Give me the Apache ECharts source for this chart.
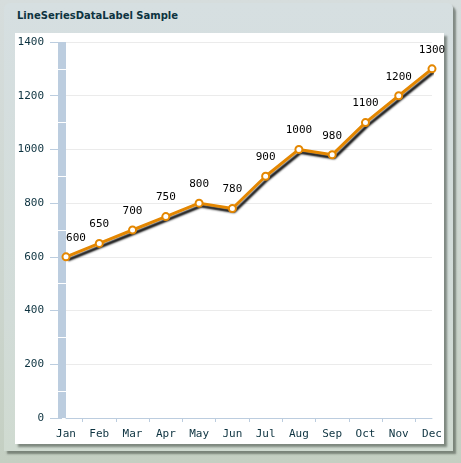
<!DOCTYPE html>
<html>
<head>
<meta charset="utf-8">
<script src="https://cdn.jsdelivr.net/npm/echarts@6/dist/echarts.min.js"></script>
<style>
  html, body { margin: 0; padding: 0; }
  body {
    width: 461px; height: 463px; position: relative; overflow: hidden;
    background: linear-gradient(180deg, #d6dddd 0%, #cdd6cf 60%, #c4cfc2 100%);
  }
  .panel {
    position: absolute; left: 4px; top: 3px; width: 449px; height: 448px;
    border-radius: 6px 6px 0 0;
    background: linear-gradient(180deg, #d6dfe1 0%, #d2dcd8 70%, #cfdad0 100%);
    box-shadow: 3px 3px 2px rgba(60, 70, 60, 0.55);
  }
  .title {
    position: absolute; left: 17px; top: 10px;
    font: bold 10px "DejaVu Sans", sans-serif; color: #0d3340;
  }
  .body {
    position: absolute; left: 15px; top: 33px; width: 429px; height: 411px;
    background: #fff;
    box-shadow: 3px 3px 2px rgba(60, 70, 60, 0.55);
  }
  #main { position: absolute; left: 0; top: 0; width: 461px; height: 463px; }
</style>
</head>
<body>
<div class="panel"></div>
<div class="title">LineSeriesDataLabel Sample</div>
<div class="body"></div>
<div id="main"></div>
<script>
const months = ['Jan', 'Feb', 'Mar', 'Apr', 'May', 'Jun', 'Jul', 'Aug', 'Sep', 'Oct', 'Nov', 'Dec']
const values = [600, 650, 700, 750, 800, 780, 900, 1000, 980, 1100, 1200, 1300]
const yTicks = [0, 200, 400, 600, 800, 1000, 1200, 1400]

const axisBlue = '#bccddf'
const textColor = '#0d3340'
const labelFont = '"DejaVu Sans Mono", monospace'

let chartDom = document.getElementById('main')
let myChart = echarts.init(chartDom)

const seriesData = values.map((v, i) => {
  // first label sits clear of the axis band
  if (i === 0) return { value: v, label: { offset: [10, 0] } }
  return v
})

let option = {
  animation: false,
  grid: {
    left: 66,
    right: 29,
    top: 42,
    bottom: 45
  },
  xAxis: [
    {
      type: 'category',
      data: months,
      boundaryGap: false,
      axisLine: { lineStyle: { color: axisBlue, width: 1 } },
      axisTick: { show: false },
      axisLabel: { color: textColor, fontFamily: labelFont, fontSize: 11, margin: 11 },
      splitLine: { show: false }
    },
    {
      // ticks sit between the months
      type: 'category',
      data: months.slice(1).map(() => ''),
      boundaryGap: true,
      position: 'bottom',
      axisLine: { show: false },
      axisTick: { show: true, alignWithLabel: true, length: 4, lineStyle: { color: axisBlue } },
      axisLabel: { show: false },
      splitLine: { show: false }
    }
  ],
  yAxis: [
    {
      type: 'value',
      min: yTicks[0],
      max: yTicks[yTicks.length - 1],
      interval: 200,
      offset: 4,
      axisLine: { show: true, lineStyle: { color: axisBlue, width: 8, cap: 'butt' } },
      axisTick: { show: true, length: 12, lineStyle: { color: axisBlue } },
      minorTick: { show: true, splitNumber: 2, length: 4, lineStyle: { color: '#fff', width: 1 } },
      axisLabel: {
        color: textColor, fontFamily: labelFont, fontSize: 11, margin: 18,
        formatter: function (value) { return String(value) }
      },
      splitLine: { show: true, lineStyle: { color: '#ebebeb', width: 1 } }
    },
    {
      type: 'value',
      position: 'left',
      min: yTicks[0],
      max: yTicks[yTicks.length - 1],
      interval: 200,
      offset: 4,
      axisLine: { show: false },
      axisTick: { show: false, inside: true },
      minorTick: { show: true, splitNumber: 2, length: 4, lineStyle: { color: '#fff', width: 1 } },
      axisLabel: { show: false },
      splitLine: { show: false }
    }
  ],
  series: [
    {
      type: 'line',
      data: seriesData,
      symbol: 'circle',
      symbolSize: 7,
      itemStyle: { color: '#fff', borderColor: '#e48701', borderWidth: 2 },
      lineStyle: {
        color: '#e48701',
        width: 3,
        shadowColor: 'rgba(0,0,0,0.95)',
        shadowBlur: 2,
        shadowOffsetX: 2,
        shadowOffsetY: 3
      },
      label: {
        show: true,
        position: 'top',
        distance: 9,
        color: '#000',
        fontFamily: labelFont,
        fontSize: 11
      },
      z: 3
    }
  ]
}

option && myChart.setOption(option)
</script>
</body>
</html>
